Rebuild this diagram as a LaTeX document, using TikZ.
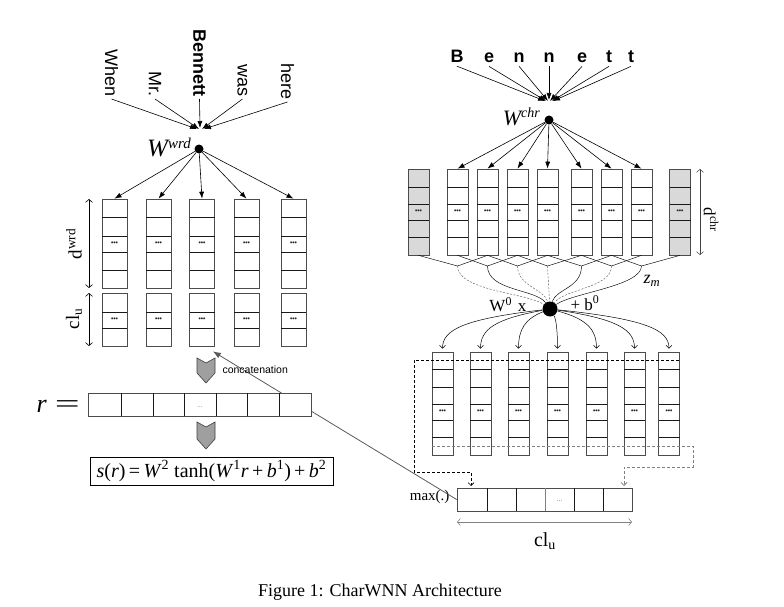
\documentclass[tikz,border=0pt]{standalone}
\usepackage{fontspec}
\setmainfont{Liberation Serif}
\newfontfamily\arialf{Liberation Sans}
\usetikzlibrary{arrows.meta,calc}
\newcommand{\fsz}[1]{\fontsize{#1}{#1}\selectfont}
\newcommand{\bdots}{\textbullet\kern-0.6pt\textbullet\kern-0.6pt\textbullet}
\begin{document}
\begin{tikzpicture}[x=1pt,y=-1pt,
  cell/.style={draw=black!70, line width=0.7pt, fill=white, inner sep=0pt},
  rowline/.style={draw=black!90, line width=0.6pt},
  dotsn/.style={font=\fsz{8}, inner sep=0pt, text=black!85},
  blk/.style={line width=0.6pt, -{Latex[length=7pt,width=5pt]}},
  thinarr/.style={line width=0.5pt, -{Straight Barb[length=3pt,width=6pt]}},
  dbl/.style={line width=0.6pt, {Straight Barb[length=3pt,width=7pt]}-{Straight Barb[length=3pt,width=7pt]}},
  wordn/.style={font=\arialf\fsz{18}, inner sep=2pt, rotate=-90, anchor=east},
  ltr/.style={font=\arialf\bfseries\fsz{18}, inner sep=3pt, anchor=base},
  conn/.style={line width=0.45pt},
  dconn/.style={line width=0.45pt, black!65, dash pattern=on 2pt off 1.5pt},
]
\useasboundingbox (0,0) rectangle (784,607);

% ---------- left: words ----------
\node[wordn] (w1) at (111.5,99) {When};
\node[wordn] (w2) at (155,99) {Mr.};
\node[wordn, font=\arialf\bfseries\fsz{18}] (w3) at (199.5,99) {Bennett};
\node[wordn] (w4) at (242.5,99) {was};
\node[wordn] (w5) at (287.5,102) {here};
\coordinate (wc) at (200,129);
\draw[blk] (w1.east) -- ($(wc)+(-3,0)$);
\draw[blk] (w2.east) -- ($(wc)+(-1,0)$);
\draw[blk] (w3.east) -- ($(wc)+(0,-1)$);
\draw[blk] (w4.east) -- ($(wc)+(2,0)$);
\draw[blk] (w5.east) -- ($(wc)+(4,0)$);

\node[circle, fill, inner sep=0pt, minimum size=9pt] (wd) at (199,149) {};
\node[anchor=base east, font=\fsz{25}\itshape, inner sep=0pt] (wl) at (191,157) {W\raisebox{8pt}{\fsz{15}wrd}};

% ---------- left columns ----------
\foreach \i/\x in {1/114.5,2/158.5,3/202,4/246.5,5/293.5}{
  \node[cell, minimum width=25pt, minimum height=89pt] (u\i) at (\x,243.5) {};
  \foreach \yy in {217,236,252,270} \draw[rowline] (\x-12.5,\yy) -- (\x+12.5,\yy);
  \node[dotsn] at (\x,244) {\bdots};
  \node[cell, minimum width=25pt, minimum height=53pt] (l\i) at (\x,319.5) {};
  \foreach \yy in {312,328} \draw[rowline] (\x-12.5,\yy) -- (\x+12.5,\yy);
  \node[dotsn] at (\x,320) {\bdots};
  \draw[blk] (wd) -- (u\i.north);
}
\draw[dbl] (89,199) -- (89,288);
\node[rotate=90, font=\fsz{19}] at (74,244) {d\textsuperscript{wrd}};
\draw[dbl] (89,293) -- (89,346);
\node[rotate=90, font=\fsz{19}] at (74,319) {cl\textsubscript{u}};

% ---------- right: characters ----------
\foreach \n/\x/\t in {b1/457/B,b2/489/e,b3/519/n,b4/549/n,b5/582/e,b6/609/t,b7/631/t}
  \node[ltr] (\n) at (\x,63) {\t};
\coordinate (cc) at (549,101);
\draw[blk] (b1.south) -- ($(cc)+(-4,0)$);
\draw[blk] (b2.south) -- ($(cc)+(-3,0)$);
\draw[blk] (b3.south) -- ($(cc)+(-1,0)$);
\draw[blk] (b4.south) -- ($(cc)+(0,-1)$);
\draw[blk] (b5.south) -- ($(cc)+(1,0)$);
\draw[blk] (b6.south) -- ($(cc)+(3,0)$);
\draw[blk] (b7.south) -- ($(cc)+(4,0)$);

\node[circle, fill, inner sep=0pt, minimum size=9pt] (cd) at (549,120) {};
\node[anchor=base east, font=\fsz{22}\itshape, inner sep=0pt] (cl) at (540,126) {W\raisebox{8pt}{\fsz{14}chr}};

\foreach \i/\x/\f in {0/418.5/gray!30,1/457.5/white,2/487.5/white,3/517.5/white,4/547.5/white,5/581.5/white,6/611.5/white,7/641.5/white,8/680/gray!30}{
  \node[cell, fill=\f, minimum width=21pt, minimum height=86pt] (c\i) at (\x,212) {};
  \foreach \yy in {187,204,220,237} \draw[rowline] (\x-10.5,\yy) -- (\x+10.5,\yy);
  \node[dotsn] at (\x,212) {\bdots};
}
\foreach \i in {1,...,7} \draw[blk] (cd) -- (c\i.north);
\draw[dbl, black!75, line width=0.5pt] (700,169) -- (700,255);
\node[rotate=-90, font=\fsz{17}] at (711,220) {d\textsuperscript{chr}};

% ---------- convolution window connections ----------
\foreach \j/\x in {1/457.5,2/487.5,3/517.5,4/547.5,5/581.5,6/611.5,7/641.5} \coordinate (m\j) at (\x,266);
\foreach \j in {1,...,7}{
  \pgfmathtruncatemacro{\a}{\j-1}
  \pgfmathtruncatemacro{\b}{\j+1}
  \draw[conn] (c\a.south) -- (m\j);
  \draw[conn] (c\b.south) -- (m\j);
}
\node[circle, fill, inner sep=0pt, minimum size=15pt] (D) at (550,309) {};
\draw[dconn] (m1) .. controls +(0,25) and +(-22,-16) .. (D);
\draw[conn] (m2) .. controls +(0,25) and +(-14,-20) .. (D);
\draw[dconn] (m3) .. controls +(0,20) and +(-6,-20) .. (D);
\draw[dconn] (m4) -- (D);
\draw[conn] (m5) .. controls +(0,22) and +(6,-20) .. (D);
\draw[dconn] (m6) .. controls +(0,22) and +(14,-20) .. (D);
\draw[conn] (m7) .. controls +(0,20) and +(22,-16) .. (D);
\node[font=\fsz{18}\itshape] (zm) at (652,281) {z\textsubscript{m}};
\node[anchor=east, font=\fsz{17}] (w0) at (530,305) {W\textsuperscript{0}\hspace{6pt}x};
\node[anchor=west, font=\fsz{17}] (b0) at (567,303) {+ b\textsuperscript{0}};

% ---------- lower columns ----------
\foreach \j/\x in {1/442.5,2/480.5,3/518.5,4/557.5,5/596.5,6/634.5,7/669}{
  \node[cell, minimum width=21pt, minimum height=103pt] (lc\j) at (\x,403.5) {};
  \foreach \yy in {369,387,404,420,437} \draw[rowline] (\x-10.5,\yy) -- (\x+10.5,\yy);
  \node[dotsn] at (\x,412) {\bdots};
  \pgfmathsetmacro{\ex}{(\x-550)*0.8}
  \draw[thinarr, shorten >=3pt] (D) .. controls +(\ex,10) and +(0,-22) .. (lc\j.north);
}

% ---------- max pooling ----------
\node[cell, minimum width=175pt, minimum height=23pt] (mx) at (544.5,499.5) {};
\foreach \xx in {487,516,574,603} \draw[rowline] (\xx,488) -- (\xx,511);
\draw[rowline, gray] (545,488) -- (545,511);
\node[font=\fsz{8}, text=gray] at (559.5,501) {...};
\draw[dash pattern=on 3pt off 2pt, line width=0.6pt, -{Straight Barb[length=3pt,width=6pt]}]
  (679,360) -- (414,360) -- (414,472) -- (471,472) -- (471,486);
\draw[dash pattern=on 3pt off 2pt, line width=0.8pt, gray, -{Straight Barb[length=3pt,width=6pt]}]
  (432,446) -- (693,446) -- (693,467) -- (624,467) -- (624,486);
\node[anchor=east, font=\fsz{15}] (mxl) at (453,497) {max(.)};
\draw[dbl, gray] (457,522) -- (632,522);
\node[font=\fsz{20}] (clu) at (545,541) {cl\textsubscript{u}};

% ---------- left bottom ----------
\draw[gray!70!black, line width=0.8pt, -{Latex[length=8pt,width=6pt]}] (mx.west) -- ($(l3.south east)+(-2,5)$);
\filldraw[fill=gray!75, draw=gray!50!black, line width=0.6pt]
  (197,358) -- (206,363) -- (215,358) -- (215,373) -- (206,383) -- (197,373) -- cycle;
\node[anchor=west, font=\arialf\fsz{10.5}] (cat) at (219,370) {concatenation};
\node[cell, minimum width=223pt, minimum height=23pt] (rb) at (200,404.5) {};
\foreach \xx in {121,153,184,216,247,279} \draw[rowline] (\xx,393) -- (\xx,416);
\node[font=\fsz{7}, text=gray] at (200,407) {...};
\node[anchor=east, font=\fsz{26}, inner sep=0pt] (req) at (80,406) {\textit{r}\hspace{8pt}\scalebox{1.7}[1]{=}};
\filldraw[fill=gray!75, draw=gray!50!black, line width=0.6pt]
  (197,422) -- (206,427) -- (215,422) -- (215,439) -- (206,449) -- (197,439) -- cycle;
\node[draw, line width=0.8pt, minimum width=243pt, minimum height=28pt, inner sep=0pt, font=\fsz{20}] (fm) at (211.5,471)
  {\textit{s}(\textit{r})\,=\,\textit{W}\textsuperscript{2} tanh(\textit{W}\textsuperscript{1}\textit{r}\,+\,\textit{b}\textsuperscript{1})\,+\,\textit{b}\textsuperscript{2}};

\node[font=\fsz{18}] (cap) at (380,592) {Figure 1: CharWNN Architecture};
\end{tikzpicture}
\end{document}
